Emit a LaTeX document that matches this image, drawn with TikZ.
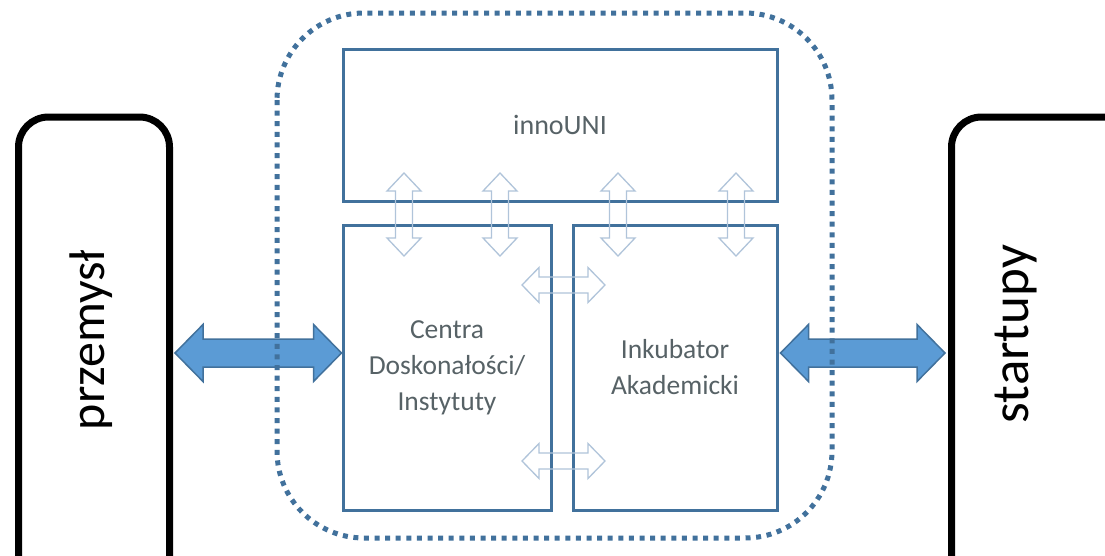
\documentclass[tikz,border=0pt]{standalone}
\usepackage{fontspec}
\setmainfont{Carlito}
\usetikzlibrary{calc}

\definecolor{boxblue}{RGB}{65,113,156}
\definecolor{fillblue}{RGB}{91,155,213}
\definecolor{lightline}{RGB}{176,196,218}
\definecolor{textgray}{RGB}{87,98,102}

\tikzset{
	unit/.style={draw=boxblue, line width=3pt, inner sep=0pt, text=textgray, font=\fontsize{27.5}{36}\selectfont, align=center},
	side/.style={draw=black, line width=7pt, rounded corners=30pt},
	bigarrow/.style={draw=boxblue, line width=1.5pt, fill=fillblue, line join=miter},
	smallarrow/.style={draw=lightline, line width=1.3pt, line join=miter}
}

% double arrows: #2,#3 end points, #4 half shaft, #5 half head, #6 head length
\newcommand{\dblarrowh}[6][smallarrow]{
	\draw[#1] (#2) -- ($(#2)+(#6,-#5)$) -- ($(#2)+(#6,-#4)$) -- ($(#3)+(-#6,-#4)$) -- ($(#3)+(-#6,-#5)$) -- (#3)
		-- ($(#3)+(-#6,#5)$) -- ($(#3)+(-#6,#4)$) -- ($(#2)+(#6,#4)$) -- ($(#2)+(#6,#5)$) -- cycle;
}
\newcommand{\dblarrowv}[6][smallarrow]{
	\draw[#1] (#2) -- ($(#2)+(-#5,#6)$) -- ($(#2)+(-#4,#6)$) -- ($(#3)+(-#4,-#6)$) -- ($(#3)+(-#5,-#6)$) -- (#3)
		-- ($(#3)+(#5,-#6)$) -- ($(#3)+(#4,-#6)$) -- ($(#2)+(#4,#6)$) -- ($(#2)+(#5,#6)$) -- cycle;
}

\begin{document}
\begin{tikzpicture}[x=1pt, y=-1pt]
	\clip (0,0) rectangle (1105,555);
	\fill[white] (0,0) rectangle (1105,555);

	% outer partners
	\draw[side] (18.5,640) -- (18.5,117) -- (169.5,117) -- (169.5,640);
	\draw[side] (1180,117) -- (951.5,117) -- (951.5,640);
	\coordinate (przemyslE) at (175,353);
	\coordinate (startupyW) at (945,353);
	\node[rotate=90, font=\fontsize{50}{60}\selectfont] (przemysl) at (91,340) {przemysł};
	\node[rotate=90, font=\fontsize{53}{60}\selectfont] (startupy) at (1016,334) {startupy};

	% units
	\node[unit, font=\fontsize{28}{36}\selectfont, minimum width=434, minimum height=152] (inno) at (560,125) {innoUNI};
	\node[unit, minimum width=208, minimum height=285] (centra) at (447,367.5) {Centra\\Doskonałości/\\Instytuty};
	\node[unit, minimum width=204, minimum height=285] (inkub) at (675,367.5) {Inkubator\\Akademicki};

	% links to partners
	\coordinate (centraW) at (centra.west |- przemyslE);
	\coordinate (inkubE) at ($(inkub.east |- startupyW)+(2,0)$);
	\dblarrowh[bigarrow]{przemyslE}{centraW}{14}{28.5}{28}
	\dblarrowh[bigarrow]{inkubE}{startupyW}{14}{28.5}{28}

	% university frame
	\draw[boxblue, line width=5pt, dash pattern=on 5pt off 5.6pt, rounded corners=87pt] (277,13) rectangle (832,538);

	% links between units
	\foreach \x in {404,500,618,736} {
		\coordinate (top\x) at (\x,173);
		\coordinate (bot\x) at (\x,256);
		\dblarrowv{top\x}{bot\x}{8.5}{17}{18}
	}
	\foreach \y [count=\i] in {285,461} {
		\coordinate (hl\i) at (522,\y);
		\coordinate (hr\i) at (605,\y);
		\dblarrowh{hl\i}{hr\i}{8}{17.5}{17}
	}
\end{tikzpicture}
\end{document}
